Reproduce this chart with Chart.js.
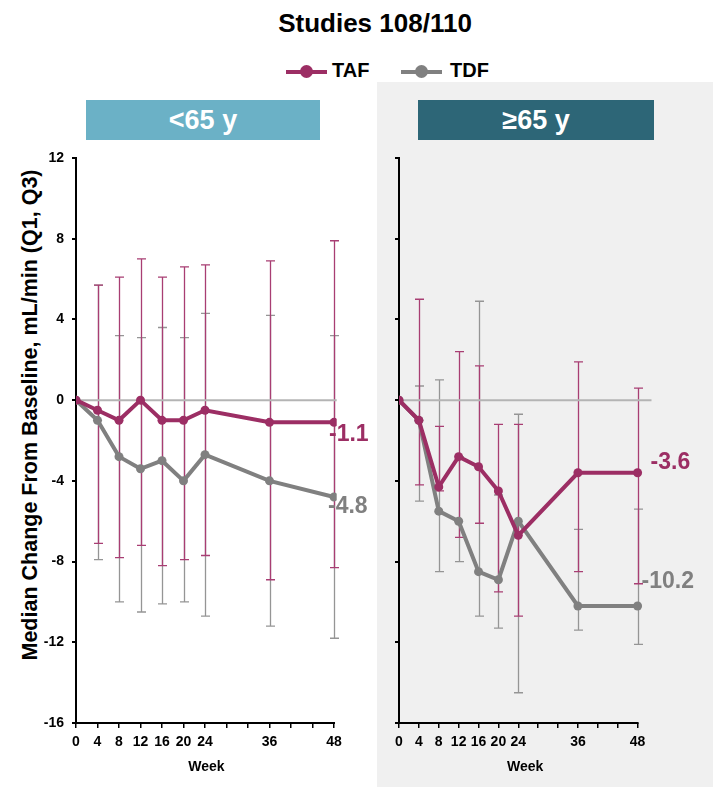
<!DOCTYPE html>
<html><head><meta charset="utf-8">
<script src="https://cdn.jsdelivr.net/npm/chart.js@4.4.0/dist/chart.umd.min.js"></script>
<style>
html,body{margin:0;padding:0;background:#fff;}
body{width:713px;height:787px;position:relative;overflow:hidden;font-family:"Liberation Sans",Arial,sans-serif;font-weight:bold;color:#000;}
#bgRight{position:absolute;left:377px;top:82px;width:336px;height:705px;background:#f0f0f0;}
#title{position:absolute;left:375px;top:10px;transform:translateX(-50%);font-size:26px;line-height:26px;white-space:nowrap;}
.leg{position:absolute;top:60px;font-size:20px;line-height:20px;white-space:nowrap;}
.legline{position:absolute;width:41px;height:4px;top:69.5px;}
.legdot{position:absolute;width:13px;height:13px;border-radius:50%;top:65px;}
.box{position:absolute;top:100px;height:40px;color:#fff;font-size:27px;display:flex;align-items:center;justify-content:center;white-space:nowrap;}
#ytitle{position:absolute;left:29.5px;top:415px;transform:translate(-50%,-50%) rotate(-90deg);font-size:21.5px;white-space:nowrap;}
canvas{position:absolute;top:0;}
</style>
</head>
<body>
<div id="bgRight"></div>
<div id="title">Studies 108/110</div>
<div class="legline" style="left:286px;background:#9c2e64"></div>
<div class="legdot" style="left:300px;background:#9c2e64"></div>
<div class="leg" style="left:332px">TAF</div>
<div class="legline" style="left:401px;background:#808080"></div>
<div class="legdot" style="left:415px;background:#808080"></div>
<div class="leg" style="left:450px">TDF</div>
<div class="box" style="left:86px;width:234px;background:#6bb1c6">&lt;65 y</div>
<div class="box" style="left:418px;width:236px;background:#2d6677">≥65 y</div>
<div id="ytitle">Median Change From Baseline, mL/min (Q1, Q3)</div>
<canvas id="cLeft" width="377" height="787" style="left:0;width:377px;height:787px"></canvas>
<canvas id="cRight" width="336" height="787" style="left:377px;width:336px;height:787px"></canvas>
<script>
// ---- data ----
const weeks = [0, 4, 8, 12, 16, 20, 24, 36, 48];
const xTickLabels = [0, 4, 8, 12, 16, 20, 24, 36, 48];
const yTicks = [12, 8, 4, 0, -4, -8, -12, -16];

// <65 y
const tafMedianU65 = [0, -0.5, -1.0, 0.0, -1.0, -1.0, -0.5, -1.1, -1.1];
const tafQ1U65     = [0, -7.1, -7.8, -7.2, -8.2, -7.9, -7.7, -8.9, -8.3];
const tafQ3U65     = [0, 5.7, 6.1, 7.0, 6.1, 6.6, 6.7, 6.9, 7.9];
const tdfMedianU65 = [0, -1.0, -2.8, -3.4, -3.0, -4.0, -2.7, -4.0, -4.8];
const tdfQ1U65     = [0, -7.9, -10.0, -10.5, -10.1, -10.0, -10.7, -11.2, -11.8];
const tdfQ3U65     = [0, 5.7, 3.2, 3.1, 3.6, 3.1, 4.3, 4.2, 3.2];

// >=65 y
const tafMedianO65 = [0, -1.0, -4.3, -2.8, -3.3, -4.5, -6.7, -3.6, -3.6];
const tafQ1O65     = [0, -4.2, -4.5, -6.8, -6.1, -9.5, -10.7, -8.5, -9.1];
const tafQ3O65     = [0, 5.0, -1.3, 2.4, 1.7, -1.2, -1.2, 1.9, 0.6];
const tdfMedianO65 = [0, -1.0, -5.5, -6.0, -8.5, -8.9, -6.0, -10.2, -10.2];
const tdfQ1O65     = [0, -5.0, -8.5, -8.0, -10.7, -11.3, -14.5, -11.4, -12.1];
const tdfQ3O65     = [0, 0.7, 1.0, -2.8, 4.9, -4.7, -0.7, -6.4, -5.4];

// ---- style ----
const FONT = '"Liberation Sans", Arial, sans-serif';
const TAF_COLOR = '#9c2e64', TAF_BAR = '#a83e73';
const TDF_COLOR = '#808080', TDF_BAR = '#959595';
const ZERO_COLOR = '#b4b4b4';

const panelDecor = {
  id: 'panelDecor',
  beforeDatasetsDraw(chart, args, o) {
    const ctx = chart.ctx, xs = chart.scales.x, ys = chart.scales.y, ca = chart.chartArea;
    ctx.save();
    ctx.lineWidth = 1.3;
    for (const s of o.bars) {
      ctx.strokeStyle = s.color;
      weeks.forEach((w, i) => {
        if (s.q1[i] === s.q3[i]) return;
        const px = Math.round(xs.getPixelForValue(w)) + 0.5;
        const a = ys.getPixelForValue(s.q1[i]);
        const b = ys.getPixelForValue(s.q3[i]);
        ctx.beginPath();
        ctx.moveTo(px, a); ctx.lineTo(px, b);
        ctx.moveTo(px - o.cap, a); ctx.lineTo(px + o.cap, a);
        ctx.moveTo(px - o.cap, b); ctx.lineTo(px + o.cap, b);
        ctx.stroke();
      });
    }
    // zero reference line
    const y0 = ys.getPixelForValue(0);
    ctx.strokeStyle = ZERO_COLOR; ctx.lineWidth = 2;
    ctx.beginPath(); ctx.moveTo(ca.left, y0); ctx.lineTo(ca.right, y0); ctx.stroke();
    ctx.restore();
  },
  afterDatasetsDraw(chart, args, o) {
    const ctx = chart.ctx, xs = chart.scales.x, ys = chart.scales.y, ca = chart.chartArea;
    ctx.save();
    // x axis line (week 0 to week 48)
    ctx.strokeStyle = '#000'; ctx.lineWidth = 2;
    ctx.beginPath();
    ctx.moveTo(xs.getPixelForValue(weeks[0]) - 1, ca.bottom);
    ctx.lineTo(xs.getPixelForValue(weeks[weeks.length - 1]) + 1, ca.bottom);
    ctx.stroke();
    // end labels
    ctx.font = 'bold 23px ' + FONT;
    ctx.textAlign = 'left'; ctx.textBaseline = 'middle';
    for (const l of o.labels) {
      const last = l.values.length - 1;
      ctx.fillStyle = l.color;
      ctx.fillText(l.values[last].toFixed(1),
        xs.getPixelForValue(weeks[last]) + l.dx,
        ys.getPixelForValue(l.values[last]) + l.dy);
    }
    ctx.restore();
  }
};

function makePanel(id, taf, tdf, bars, labels, layout) {
  const pts = arr => weeks.map((w, i) => ({ x: w, y: arr[i] }));
  return new Chart(document.getElementById(id), {
    type: 'line',
    data: {
      datasets: [
        { label: 'TAF', data: pts(taf), borderColor: TAF_COLOR, backgroundColor: TAF_COLOR,
          borderWidth: 4, pointRadius: 4.5, pointBorderWidth: 0, pointHoverRadius: 4.5, tension: 0 },
        { label: 'TDF', data: pts(tdf), borderColor: TDF_COLOR, backgroundColor: TDF_COLOR,
          borderWidth: 4, pointRadius: 4.5, pointBorderWidth: 0, pointHoverRadius: 4.5, tension: 0 }
      ]
    },
    options: {
      responsive: false, animation: false, devicePixelRatio: 1,
      layout: { padding: { top: 158, right: layout.padRight, bottom: 0, left: 0 } },
      plugins: {
        legend: { display: false }, tooltip: { enabled: false }, title: { display: false },
        panelDecor: { bars: bars, labels: labels, cap: 4.5 }
      },
      scales: {
        x: {
          type: 'linear', min: 0, max: layout.xMax,
          ticks: { stepSize: 4, includeBounds: false, autoSkip: false, maxRotation: 0, minRotation: 0,
            padding: 6, color: '#000', font: { family: FONT, size: 14, weight: 'bold' },
            callback: v => xTickLabels.includes(Math.round(v)) ? String(Math.round(v)) : '' },
          grid: { display: true, drawOnChartArea: false, drawTicks: true, tickLength: 5, color: '#000', lineWidth: 1.5 },
          border: { display: false },
          title: { display: true, text: 'Week', color: '#000', font: { family: FONT, size: 14, weight: 'bold' },
            padding: { top: 4, bottom: 11 } },
          afterFit: s => { s.height = 64; }
        },
        y: {
          min: -16, max: 12,
          afterBuildTicks: s => { s.ticks = yTicks.map(v => ({ value: v })); },
          ticks: { padding: 8, color: '#000', font: { family: FONT, size: 14, weight: 'bold' },
            callback: v => layout.showY ? String(v) : '' },
          grid: { display: true, drawOnChartArea: false, drawTicks: true, tickLength: 4, color: '#000', lineWidth: 2 },
          border: { display: true, color: '#000', width: 2 },
          afterFit: s => { s.width = layout.yWidth; }
        }
      }
    },
    plugins: [panelDecor]
  });
}

makePanel('cLeft', tafMedianU65, tdfMedianU65,
  [{ q1: tdfQ1U65, q3: tdfQ3U65, color: TDF_BAR }, { q1: tafQ1U65, q3: tafQ3U65, color: TAF_BAR }],
  [{ values: tafMedianU65, color: TAF_COLOR, dx: -5, dy: 12 },
   { values: tdfMedianU65, color: TDF_COLOR, dx: -6, dy: 10 }],
  { padRight: 40.3, xMax: 48.5, yWidth: 76, showY: true });

makePanel('cRight', tafMedianO65, tdfMedianO65,
  [{ q1: tdfQ1O65, q3: tdfQ3O65, color: TDF_BAR }, { q1: tafQ1O65, q3: tafQ3O65, color: TAF_BAR }],
  [{ values: tafMedianO65, color: TAF_COLOR, dx: 13, dy: -10 },
   { values: tdfMedianO65, color: TDF_COLOR, dx: 4, dy: -24 }],
  { padRight: 61.5, xMax: 50.8, yWidth: 22, showY: false });
</script>
</body></html>
